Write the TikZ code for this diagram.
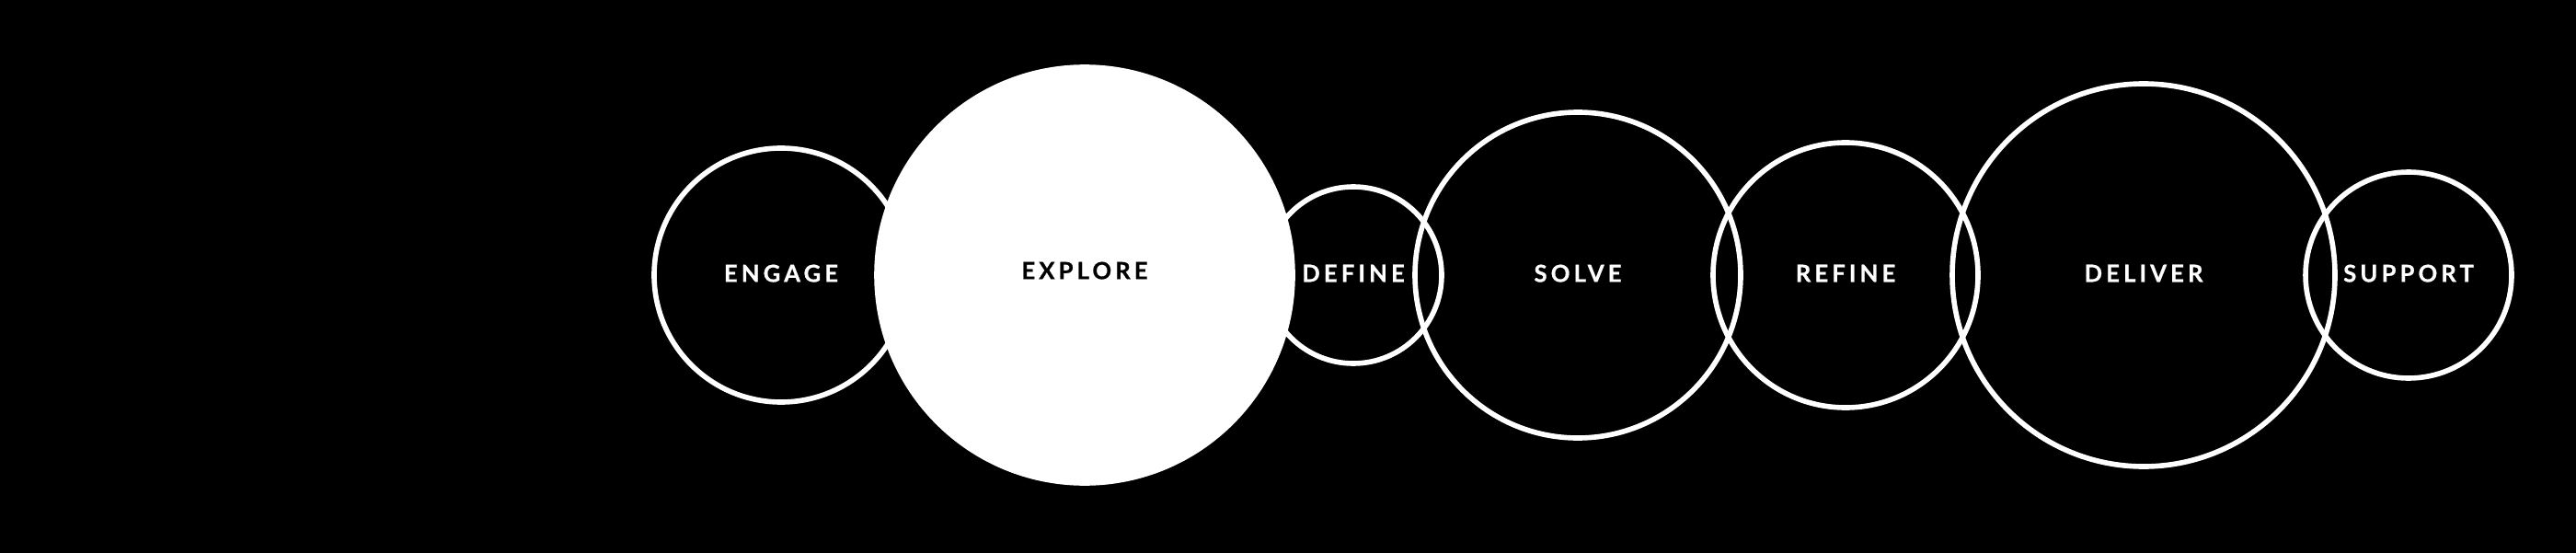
\documentclass[tikz,border=0pt]{standalone}
\usepackage{fontspec}
\newfontfamily\stagefont{Lato}[LetterSpace=16,BoldFeatures={FakeBold=0.7}]

\begin{document}
\begin{tikzpicture}[
	stage/.style={shape=circle,draw=white,line width=1.6pt,inner sep=0pt,text=white,text depth=0.04cm,
		font=\stagefont\bfseries\fontsize{7.3}{8}\selectfont}
	]
	
	\useasboundingbox (0,0) rectangle (28,6);
	\fill[black] (-0.2,-0.2) rectangle (28.2,6.2);
	
	\node[stage,minimum size=2.76cm] (engage) at (8.49, 3.01)     {ENGAGE};
	\node[stage,minimum size=1.92cm] (define) at (14.71, 3.01)    {DEFINE};
	\node[stage,minimum size=4.52cm,fill=white,text=black,text depth=0.1cm] (explore) at (11.79, 3.01)     {EXPLORE};
	\node[stage,minimum size=3.54cm] (solve) at (17.15, 3.01)     {SOLVE};
	\node[stage,minimum size=2.88cm] (refine) at (20.06, 3.01)    {REFINE};
	\node[stage,minimum size=4.16cm] (deliver) at (23.30, 3.01)   {DELIVER};
	\node[stage,minimum size=2.24cm] (support) at (26.18, 3.01)   {SUPPORT};
	
\end{tikzpicture}
\end{document}
